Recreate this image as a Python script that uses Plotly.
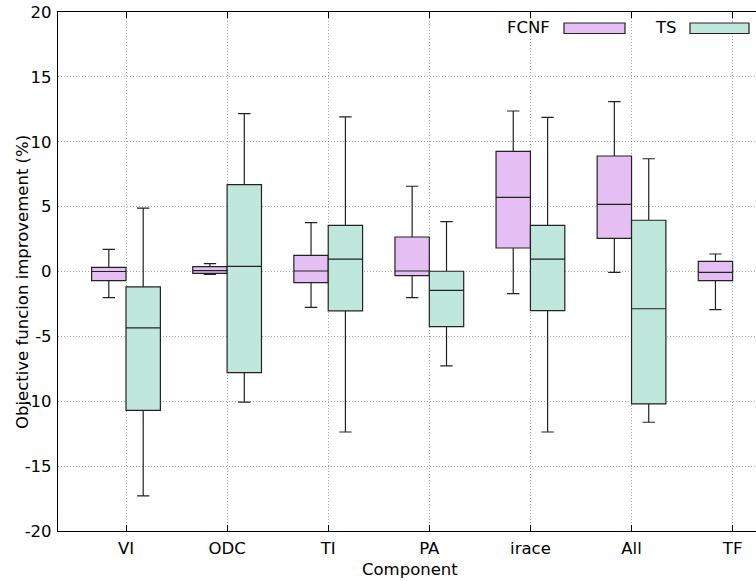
import plotly.graph_objects as go

categories = ["VI", "ODC", "TI", "PA", "irace", "All", "TF"]

# FCNF statistics
fcnf_low = [-2.02, -0.22, -2.76, -2.02, -1.71, -0.06, -2.94]
fcnf_q1 = [-0.71, -0.14, -0.86, -0.32, 1.81, 2.56, -0.71]
fcnf_med = [0.0, 0.06, 0.04, 0.04, 5.72, 5.18, -0.06]
fcnf_q3 = [0.32, 0.37, 1.25, 2.66, 9.26, 8.90, 0.78]
fcnf_up = [1.71, 0.60, 3.76, 6.57, 12.37, 13.09, 1.35]

# TS statistics (no TF value)
ts_cats = ["VI", "ODC", "TI", "PA", "irace", "All"]
ts_low = [-17.3, -10.06, -12.37, -7.28, -12.37, -11.62]
ts_q1 = [-10.7, -7.8, -3.04, -4.25, -3.02, -10.21]
ts_med = [-4.35, 0.40, 0.96, -1.45, 0.96, -2.87]
ts_q3 = [-1.19, 6.69, 3.56, 0.02, 3.56, 3.95]
ts_up = [4.89, 12.16, 11.91, 3.84, 11.88, 8.69]

yticks = [-20, -15, -10, -5, 0, 5, 10, 15, 20]

FCNF_COLOR = "#e5bff3"
TS_COLOR = "#c0e7dc"
LINE = "#222222"
FONT = "DejaVu Sans"
FS = 16.5
GRID = "#a8a8a8"

fig = go.Figure()
fig.add_trace(go.Box(
    name="FCNF", x=categories, q1=fcnf_q1, median=fcnf_med, q3=fcnf_q3,
    lowerfence=fcnf_low, upperfence=fcnf_up,
    fillcolor=FCNF_COLOR, line=dict(color=LINE, width=1.2),
    whiskerwidth=0.36, boxpoints=False, hoverinfo="skip", showlegend=False,
))
fig.add_trace(go.Box(
    name="TS", x=ts_cats, q1=ts_q1, median=ts_med, q3=ts_q3,
    lowerfence=ts_low, upperfence=ts_up,
    fillcolor=TS_COLOR, line=dict(color=LINE, width=1.2),
    whiskerwidth=0.36, boxpoints=False, hoverinfo="skip", showlegend=False,
))

# legend (gnuplot style: label left of sample)
def px_x(p):
    return (p - 58) / 698.0

def px_y(p):
    return (531 - p) / 519.0

shapes = [
    dict(type="rect", xref="paper", yref="paper", x0=px_x(564), x1=px_x(625),
         y0=px_y(33.5), y1=px_y(23), fillcolor=FCNF_COLOR, line=dict(color=LINE, width=1.2)),
    dict(type="rect", xref="paper", yref="paper", x0=px_x(690), x1=px_x(749),
         y0=px_y(33.5), y1=px_y(23), fillcolor=TS_COLOR, line=dict(color=LINE, width=1.2)),
]
annotations = [
    dict(text="FCNF", xref="paper", yref="paper", x=px_x(552), y=px_y(28),
         xanchor="right", yanchor="middle", showarrow=False,
         font=dict(family=FONT, size=FS, color="black")),
    dict(text="TS", xref="paper", yref="paper", x=px_x(679), y=px_y(28),
         xanchor="right", yanchor="middle", showarrow=False,
         font=dict(family=FONT, size=FS, color="black")),
    dict(text="Objective funcion improvement (%)", xref="paper", yref="paper",
         x=px_x(22), y=px_y(282), xanchor="center", yanchor="middle",
         textangle=-90, showarrow=False,
         font=dict(family=FONT, size=FS, color="black")),
    dict(text="Component", xref="paper", yref="paper",
         x=px_x(410), y=px_y(569), xanchor="center", yanchor="middle",
         showarrow=False, font=dict(family=FONT, size=FS, color="black")),
]

fig.update_layout(
    width=756, height=581,
    margin=dict(l=58, r=0, t=12, b=50),
    paper_bgcolor="white", plot_bgcolor="white",
    boxmode="group", boxgap=0.32, boxgroupgap=0.0,
    font=dict(family=FONT, size=FS, color="black"),
    shapes=shapes, annotations=annotations,
    xaxis=dict(
        type="category", categoryorder="array", categoryarray=categories,
        range=[-0.6726, 6.231],
        showline=True, linecolor="black", linewidth=1.2, mirror="ticks",
        ticks="inside", ticklen=6, tickcolor="black", tickwidth=1.2,
        showgrid=True, gridcolor=GRID, griddash="1px,2px", gridwidth=1,
        tickfont=dict(size=FS), zeroline=False, ticklabelstandoff=2,
    ),
    yaxis=dict(
        range=[-20, 20], tickvals=yticks, ticktext=[str(v) for v in yticks],
        showline=True, linecolor="black", linewidth=1.2,
        ticks="", showgrid=True, gridcolor=GRID, griddash="1px,2px", gridwidth=1,
        tickfont=dict(size=FS), zeroline=False, ticklabelstandoff=2,
    ),
)

fig.write_html("out.html")
